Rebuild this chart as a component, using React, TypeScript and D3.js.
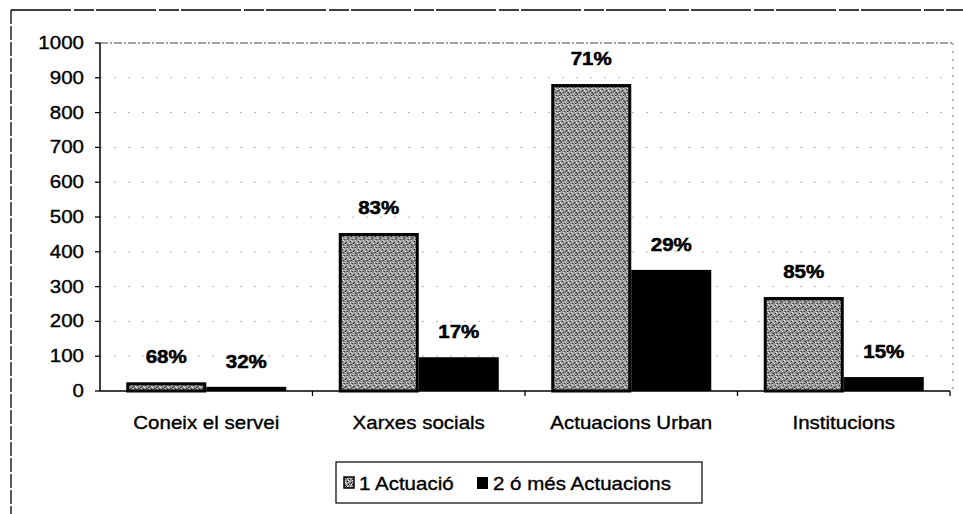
import React from 'react';
import * as d3 from 'd3';

// values
const categories = ['Coneix el servei', 'Xarxes socials', 'Actuacions Urban', 'Institucions'];
const seriesNames = ['1 Actuació', '2 ó més Actuacions'];
const oneActuacio = [25, 454, 882, 270];
const twoOrMore = [12, 97, 348, 40];
const pctOne = ['68%', '83%', '71%', '85%'];
const pctTwo = ['32%', '17%', '29%', '15%'];
const yTickValues = [0, 100, 200, 300, 400, 500, 600, 700, 800, 900, 1000];

const W = 963;
const H = 514;
const left = 100;
const right = 950;
const top = 43;
const bottom = 391;
const font = '"Liberation Sans", Arial, sans-serif';

// scanned text looks stretched horizontally, so draw it scaled
const T = ({ x, y, anchor = 'start', bold = false, children }: any) => (
    <text transform={`translate(${x},${y}) scale(1.14,1)`} textAnchor={anchor}
        fontFamily={font} fontSize={18} fontWeight={bold ? 'bold' : 'normal'}
        stroke="#000" strokeWidth={bold ? 0.5 : 0.35}>{children}</text>
);

const App = () => {
    const x0 = d3.scaleBand<string>()
        .domain(categories)
        .range([left, right])
        .paddingInner(0.247)
        .paddingOuter(0.1235);
    const x1 = d3.scaleBand<string>()
        .domain(seriesNames)
        .range([0, x0.bandwidth()]);
    const y = d3.scaleLinear().domain([0, 1000]).range([bottom, top]);

    const rows = categories.map((c, i) => ({
        cat: c,
        vals: [oneActuacio[i], twoOrMore[i]],
        pcts: [pctOne[i], pctTwo[i]],
    }));

    // stipple texture for the "1 Actuació" bars
    const white = [[0, 0], [2, 3], [5, 1], [6, 6], [3, 6], [7, 4], [1, 2], [4, 0]];
    const black = [[1, 5], [4, 4], [7, 2], [3, 1], [5, 7], [0, 7], [2, 6], [6, 3], [0, 4]];

    const step = x0.step();
    const dividers = categories.map((c, i) => left + step * (i + 1));

    return (
        <svg width={W} height={H} style={{ position: 'absolute', left: 0, top: 0, background: '#fff' }}>
            <defs>
                <pattern id="stipple" width={8} height={8} patternUnits="userSpaceOnUse">
                    <rect width={8} height={8} fill="#959595" />
                    {white.map(([a, b], i) => <rect key={'w' + i} x={a} y={b} width={1} height={1} fill="#f4f4f4" />)}
                    {black.map(([a, b], i) => <rect key={'b' + i} x={a} y={b} width={1} height={1} fill="#1a1a1a" />)}
                </pattern>
            </defs>

            {/* outer frame */}
            <line x1={11} x2={11} y1={10} y2={H} stroke="#000" strokeWidth={1.3} strokeDasharray="14,2" />
            <line x1={11} x2={W} y1={10} y2={10} stroke="#000" strokeWidth={1.3} strokeDasharray="60,3,20,2" />

            {/* gridlines */}
            {yTickValues.filter(v => v > 0).map(v => (
                <line key={'g' + v} x1={left} x2={953} y1={y(v)} y2={y(v)}
                    stroke={v === 1000 ? '#444' : '#b5b5b5'} strokeWidth={1}
                    strokeDasharray={v === 1000 ? '8,2,2,2' : '2,12'} />
            ))}
            <line x1={953} x2={953} y1={top} y2={bottom} stroke="#777" strokeDasharray="2,6" />

            {/* bars */}
            {rows.map(r => (
                <g key={r.cat} transform={`translate(${x0(r.cat)},0)`}>
                    {r.vals.map((v, j) => {
                        const bx = x1(seriesNames[j]) as number;
                        const bw = x1.bandwidth();
                        return j === 0 ? (
                            <rect key={j} x={bx + 1.5} y={y(v) + 1.5} width={bw - 3} height={Math.max(0, y(0) - y(v) - 1.5)}
                                fill="url(#stipple)" stroke="#000" strokeWidth={3} />
                        ) : (
                            <rect key={j} x={bx} y={y(v)} width={bw} height={y(0) - y(v)} fill="#000" />
                        );
                    })}
                    {r.pcts.map((p, j) => (
                        <T key={'p' + j} x={(x1(seriesNames[j]) as number) + x1.bandwidth() / 2}
                            y={Math.min(y(r.vals[j]) - 19, 372)} anchor="middle" bold>{p}</T>
                    ))}
                </g>
            ))}

            {/* y axis */}
            <line x1={left} x2={left} y1={top} y2={bottom} stroke="#000" strokeWidth={1.5} />
            {yTickValues.map(v => (
                <g key={'t' + v}>
                    <line x1={left - 5} x2={left} y1={y(v)} y2={y(v)} stroke="#000" strokeWidth={1.3} />
                    <T x={left - 16} y={y(v) + 6} anchor="end">{v}</T>
                </g>
            ))}

            {/* x axis */}
            <line x1={left} x2={right} y1={bottom} y2={bottom} stroke="#000" strokeWidth={1.5} />
            {dividers.map((d, i) => (
                <line key={'d' + i} x1={d} x2={d} y1={bottom} y2={bottom + 5} stroke="#000" strokeWidth={1.3} />
            ))}
            {categories.map(c => (
                <T key={'c' + c} x={(x0(c) as number) + x0.bandwidth() / 2} y={429} anchor="middle">{c}</T>
            ))}

            {/* legend */}
            <rect x={336} y={462} width={366} height={41} fill="#fff" stroke="#000" strokeWidth={1.2} />
            <rect x={344} y={477} width={10} height={11} fill="url(#stipple)" stroke="#000" strokeWidth={1.5} />
            <T x={359} y={490}>{seriesNames[0]}</T>
            <rect x={477} y={477} width={11} height={12} fill="#000" />
            <T x={493} y={490}>{seriesNames[1]}</T>
        </svg>
    );
};

export default App;
